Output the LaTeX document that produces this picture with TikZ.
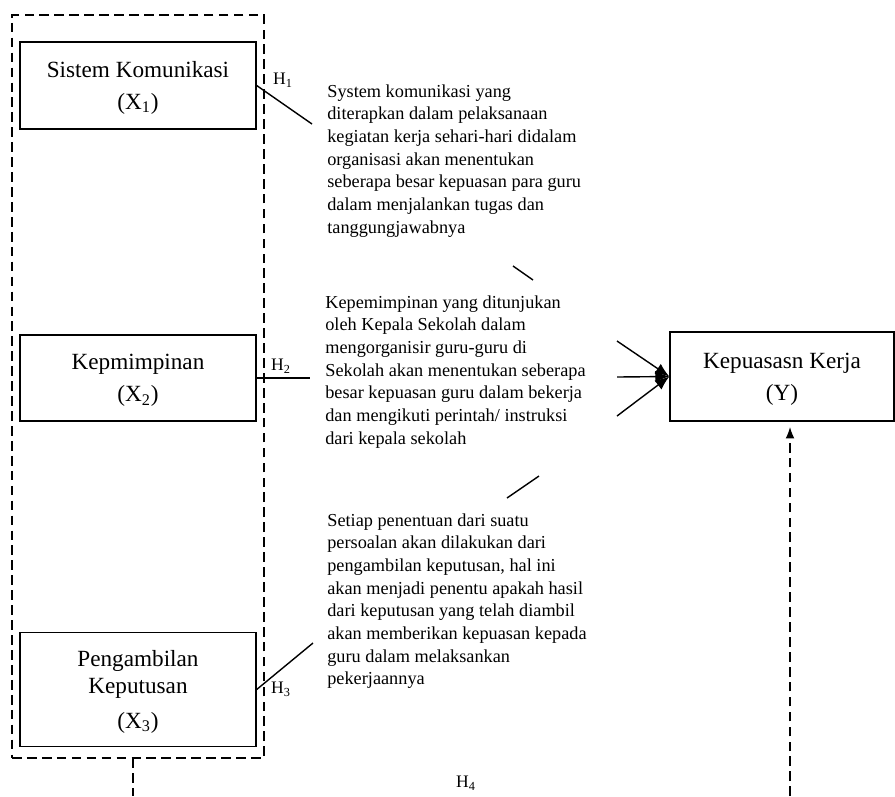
\documentclass[tikz,border=0pt]{standalone}
\usepackage{fontspec}
\setmainfont{Liberation Serif}
\usetikzlibrary{arrows.meta,positioning,calc}
\tikzset{
  var/.style  ={draw,line width=0.8pt,minimum width=4.72cm,align=center,
                font=\fontsize{13.2}{18.2}\selectfont,text depth=-1.8pt},
  grp/.style  ={draw,line width=0.7pt,dash pattern=on 5.5pt off 3pt,inner sep=0pt},
  ket/.style  ={anchor=north west,inner sep=0pt,align=left,
                font=\fontsize{10.4}{12.9}\selectfont},
  hyp/.style  ={inner sep=0pt,font=\fontsize{10}{11}\selectfont},
  lnk/.style  ={draw,line width=0.8pt},
  hdash/.style={draw,line width=0.7pt,dash pattern=on 5.5pt off 3pt},
}

\begin{document}
\begin{tikzpicture}[x=0.02cm,y=-0.02cm]
  \useasboundingbox (0,0) rectangle (895,796);
  % variabel bebas dalam satu kelompok
  \node[grp,minimum width=5.04cm,minimum height=14.86cm] (grup) at (138,386.5) {};
  \node[var,minimum height=1.74cm] (x1) at (138,85.5) {Sistem Komunikasi\\(X\textsubscript{1})};
  \node[var,minimum height=1.72cm] (x2) at (138,378) {Kepmimpinan\\(X\textsubscript{2})};
  \node[var,minimum height=2.28cm] (x3) at (138,689.5)
    {Pengambilan\\[-2.8pt]Keputusan\\[1.5pt](X\textsubscript{3})};
  \node[var,minimum width=4.48cm,minimum height=1.78cm] (ky) at (782,376.5)
    {Kepuasasn Kerja\\(Y)};

  % keterangan
  \node[ket] (k1) at (327,84) {System komunikasi yang\\
    diterapkan dalam pelaksanaan\\
    kegiatan kerja sehari-hari didalam\\
    organisasi akan menentukan\\
    seberapa besar kepuasan para guru\\
    dalam menjalankan tugas dan\\
    tanggungjawabnya};
  \node[ket] (k2) at (325,295) {Kepemimpinan yang ditunjukan\\
    oleh Kepala Sekolah dalam\\
    mengorganisir guru-guru di\\
    Sekolah akan menentukan seberapa\\
    besar kepuasan guru dalam bekerja\\
    dan mengikuti perintah/ instruksi\\
    dari kepala sekolah};
  \node[ket] (k3) at (327,513) {Setiap penentuan dari suatu\\
    persoalan akan dilakukan dari\\
    pengambilan keputusan, hal ini\\
    akan menjadi penentu apakah hasil\\
    dari keputusan yang telah diambil\\
    akan memberikan kepuasan kepada\\
    guru dalam melaksankan\\
    pekerjaannya};

  % hipotesis
  \node[hyp] (h1) at (283,80) {H\textsubscript{1}};
  \node[hyp] (h2) at (281,366) {H\textsubscript{2}};
  \node[hyp] (h3) at (281,689) {H\textsubscript{3}};
  \node[hyp] (h4) at (466,783) {H\textsubscript{4}};

  \coordinate (e1) at (312,124);
  \coordinate (e2) at (310,378);
  \coordinate (e3) at (313,643);
  \draw[lnk] (x1.east) -- (e1);
  \draw[lnk] (x2.east) -- (e2);
  \draw[lnk] (x3.east) -- (e3);

  \coordinate (s1a) at (513,266);
  \coordinate (s1b) at (533,280);
  \coordinate (s2a) at (507,498);
  \coordinate (s2b) at (539,476);
  \draw[lnk] (s1a) -- (s1b);
  \draw[lnk] (s2a) -- (s2b);

  \coordinate (p1) at (617,341);
  \coordinate (p2) at (617,377);
  \coordinate (p3) at (617,416);
  \foreach \p in {p1,p2,p3}
    \draw[lnk,-{Latex[length=8pt,width=6.5pt]}] (\p) -- (ky.west);

  % simultan
  \coordinate (b1) at (133,796);
  \coordinate (b2) at (790,796);
  \draw[hdash] (grup.south -| b1) -- (b1);
  \draw[hdash,-{Latex[length=6.5pt,width=5pt]},shorten >=3pt] (b2) -- (ky.south -| b2);
\end{tikzpicture}
\end{document}
